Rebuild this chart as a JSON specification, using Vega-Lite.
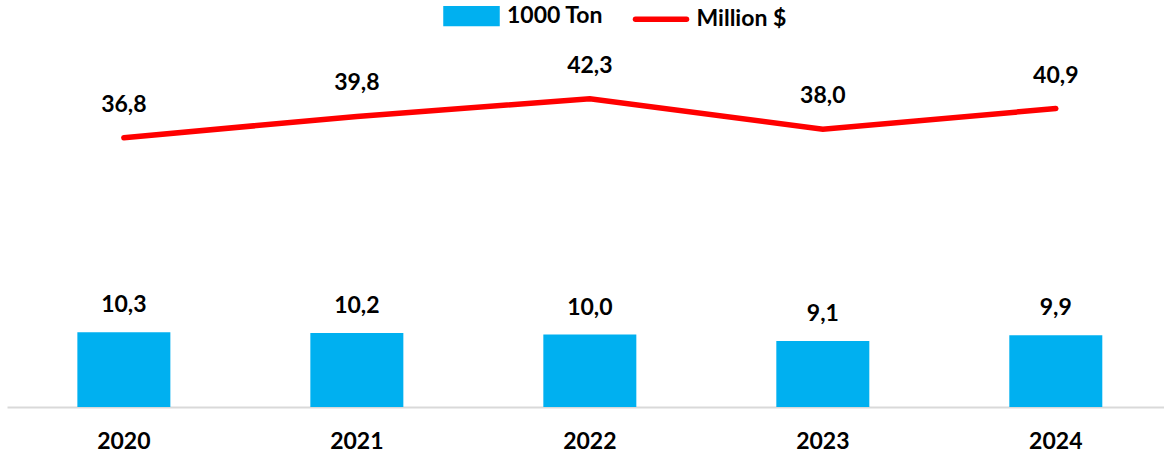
{
  "$schema": "https://vega.github.io/schema/vega-lite/v6.json",
  "width": 1157,
  "height": 377,
  "autosize": {"type": "none"},
  "padding": {"left": 7, "top": 30, "right": 0, "bottom": 52},
  "config": {
    "view": {"stroke": null},
    "font": "Lato",
    "locale": {"number": {"decimal": ",", "thousands": ".", "grouping": [3], "currency": ["", ""]}}
  },
  "data": {
    "values": [
      {"year": "2020", "series": "1000 Ton", "value": 10.3},
      {"year": "2021", "series": "1000 Ton", "value": 10.2},
      {"year": "2022", "series": "1000 Ton", "value": 10.0},
      {"year": "2023", "series": "1000 Ton", "value": 9.1},
      {"year": "2024", "series": "1000 Ton", "value": 9.9},
      {"year": "2020", "series": "Million $", "value": 36.8},
      {"year": "2021", "series": "Million $", "value": 39.8},
      {"year": "2022", "series": "Million $", "value": 42.3},
      {"year": "2023", "series": "Million $", "value": 38.0},
      {"year": "2024", "series": "Million $", "value": 40.9}
    ]
  },
  "encoding": {
    "x": {
      "field": "year",
      "type": "ordinal",
      "scale": {"paddingInner": 0.634, "paddingOuter": 0.3, "align": 0.531},
      "axis": {
        "title": null,
        "ticks": false,
        "tickSize": 0,
        "labelPadding": 41,
        "labelBaseline": "alphabetic",
        "labelAngle": 0,
        "labelFont": "Lato",
        "labelFontSize": 23,
        "labelFontWeight": "bold",
        "labelColor": "#000000",
        "domainColor": "#D9D9D9",
        "domainWidth": 2,
        "grid": false
      }
    }
  },
  "layer": [
    {
      "transform": [{"filter": "datum.series === '1000 Ton'"}],
      "encoding": {
        "y": {"field": "value", "type": "quantitative", "scale": {"domain": [0, 52], "nice": false, "zero": false}, "axis": null}
      },
      "layer": [
        {
          "mark": {"type": "bar", "size": 93},
          "encoding": {
            "color": {
              "field": "series",
              "type": "nominal",
              "scale": {"domain": ["1000 Ton", "Million $"], "range": ["#00B0F0", "#FF0000"]},
              "legend": {
                "orient": "none",
                "legendX": 436,
                "legendY": -42.5,
                "direction": "horizontal",
                "title": null,
                "labelFont": "Lato",
                "labelFontSize": 23,
                "labelFontWeight": "bold",
                "labelColor": "#000000",
                "symbolType": "M-1,-0.29H1V0.29H-1Z",
                "symbolSize": 2601,
                "labelOffset": 7,
                "columnPadding": 20.5,
                "encode": {
                  "symbols": {
                    "update": {
                      "shape": [{"test": "datum.value === 'Million $'", "value": "M-1,0H1"}, {"value": "M-1,-0.29H1V0.29H-1Z"}],
                      "fill": [{"test": "datum.value === 'Million $'", "value": "transparent"}, {"value": "#00B0F0"}],
                      "stroke": [{"test": "datum.value === 'Million $'", "value": "#FF0000"}, {"value": "transparent"}],
                      "strokeWidth": {"value": 5.5},
                      "strokeCap": {"value": "round"},
                      "opacity": {"value": 1}
                    }
                  }
                }
              }
            }
          }
        },
        {
          "mark": {"type": "text", "dy": -20, "baseline": "alphabetic", "font": "Lato", "fontSize": 23, "fontWeight": "bold", "color": "#000000"},
          "encoding": {"text": {"field": "value", "type": "quantitative", "format": ".1f"}}
        }
      ]
    },
    {
      "transform": [{"filter": "datum.series === 'Million $'"}],
      "encoding": {
        "y": {"field": "value", "type": "quantitative", "scale": {"domain": [-1.13, 51.97], "nice": false, "zero": false}, "axis": null}
      },
      "layer": [
        {
          "mark": {"type": "line", "strokeWidth": 5.5, "strokeCap": "round", "strokeJoin": "miter"},
          "encoding": {
            "color": {"field": "series", "type": "nominal"}
          }
        },
        {
          "mark": {"type": "text", "dy": -26, "baseline": "alphabetic", "font": "Lato", "fontSize": 23, "fontWeight": "bold", "color": "#000000"},
          "encoding": {"text": {"field": "value", "type": "quantitative", "format": ".1f"}}
        }
      ]
    }
  ],
  "resolve": {"scale": {"y": "independent"}}
}
